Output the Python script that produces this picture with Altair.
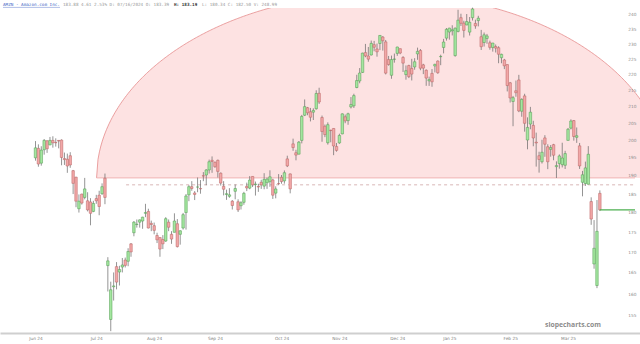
import altair as alt
import pandas as pd
import numpy as np

# Daily candles, Jun 27 2024 -> Apr 8 2025 (index = trading-day number)
opens = [
    195.0, 197.7,
    193.5, 197.3, 199.9, 198.7, 200.0, 199.4, 200.0, 200.1, 194.8, 194.6, 195.6, 191.4, 189.6, 181.1, 185.0, 184.1, 183.2, 182.9, 180.4, 183.8, 184.7, 185.1,
    189.3, 166.75, 154.2, 161.7, 166.5, 165.2, 166.4, 168.1, 167.8, 172.1, 174.9, 177.0, 177.6, 177.9, 179.9, 180.4, 177.3, 176.7, 174.2, 173.7, 173.2, 172.8,
    177.6, 174.5, 175.0, 177.2, 174.5, 176.1, 180.1, 184.8, 187.0, 185.3, 186.9, 186.5, 190.0, 190.2, 191.6, 194.3, 193.75, 194.3, 190.7, 187.1,
    184.9, 184.4, 183.1, 185.75, 182.95, 181.9, 182.8, 187.1, 186.6, 189.8, 187.6, 187.05, 188.2, 187.15, 188.05, 188.35, 188.85, 185.25, 187.85, 189.57, 188.58, 194.7, 190.5,
    199.0, 196.45, 196.04, 200.0, 207.44, 209.72, 208.5, 208.37, 209.4, 214.16, 206.76, 204.15, 199.33, 202.98, 203.49, 198.25, 199.28, 201.9, 206.98, 205.83,
    209.96, 210.31, 215.96, 218.03, 220.75, 227.21, 226.09, 226.41, 229.83, 228.4, 230.23, 232.39, 230.77, 224.91, 219.84, 225.01, 226.94, 228.5, 225.6, 220.06, 222.97,
    222.03, 222.51, 226.78, 227.9, 223.19, 221.46, 218.06, 220.44, 222.83, 224.42, 225.84, 228.9, 232.02, 234.1, 234.5, 226.21, 234.29, 239.02, 237.14, 236.5,
    234.06, 239.01, 237.02, 238.01, 232.5, 230.55, 231.92, 230.46, 228.85, 229.2, 228.82, 225.52, 224.78, 223.28, 217.45, 211.63, 214.94, 218.35, 208.65,
    213.35, 200.11, 204.8, 204.4, 199.49, 195.6, 193.9, 200.72, 198.17, 197.41, 198.77, 192.52, 193.38, 193.07, 192.9, 200.0, 203.6, 205.84, 200.89, 198.42, 188.19,
    187.86, 187.66, 183.0, 167.15, 162.0, 185.2,
]
highs = [
    199.8, 198.85,
    198.3, 200.4, 200.0, 201.0, 201.2, 200.6, 200.1, 200.3, 196.5, 196.2, 196.6, 191.6, 189.7, 184.9, 185.1, 189.4, 185.5, 183.9, 183.2, 184.8, 185.9, 187.9,
    190.6, 168.8, 162.9, 165.1, 167.6, 166.7, 168.6, 168.7, 171.0, 172.3, 177.9, 178.3, 178.3, 179.0, 182.4, 181.1, 178.0, 177.5, 174.9, 173.7, 174.3, 178.9,
    178.3, 175.3, 179.9, 178.4, 175.5, 180.0, 185.0, 187.4, 188.5, 185.8, 189.5, 188.8, 191.0, 191.8, 194.5, 195.4, 193.95, 194.5, 190.9, 188.5,
    186.2, 186.6, 183.4, 187.6, 183.6, 183.1, 185.6, 188.1, 189.9, 189.8, 188.4, 187.8, 188.9, 190.7, 189.5, 191.5, 189.16, 187.1, 190.45, 190.2, 191.46, 195.6, 190.6,
    200.5, 197.3, 199.82, 207.55, 212.25, 209.96, 209.65, 209.54, 215.09, 215.9, 207.34, 204.67, 205.3, 203.13, 203.49, 199.26, 201.95, 208.0, 207.64, 208.2,
    212.99, 214.02, 220.0, 222.15, 227.15, 230.08, 229.06, 231.2, 231.09, 230.2, 233.0, 232.73, 231.4, 226.09, 226.21, 226.88, 229.14, 228.5, 226.03, 223.0, 223.23,
    225.15, 225.36, 228.84, 228.38, 223.52, 221.71, 219.4, 221.82, 223.57, 224.65, 226.51, 231.78, 235.44, 235.52, 236.4, 235.61, 241.77, 240.39, 237.95, 240.29,
    239.25, 242.52, 238.32, 239.66, 234.81, 233.92, 233.44, 231.18, 230.42, 229.89, 229.3, 226.83, 225.13, 223.31, 217.72, 213.34, 218.16, 219.97, 212.62,
    214.01, 206.8, 209.98, 205.77, 202.27, 196.73, 200.18, 201.52, 198.88, 198.65, 199.0, 194.0, 195.97, 199.32, 196.99, 203.64, 206.21, 206.01, 203.79, 199.26, 191.33,
    193.93, 198.34, 184.13, 178.14, 183.41, 186.0,
]
lows = [
    194.2, 192.5,
    192.8, 195.9, 196.4, 198.6, 197.9, 198.2, 197.7, 192.9, 193.0, 190.8, 192.2, 185.0, 181.5, 180.1, 182.2, 183.6, 180.4, 176.8, 180.2, 182.4, 179.4, 184.8,
    182.3, 160.6, 151.6, 158.5, 161.1, 162.0, 165.1, 166.3, 166.6, 168.9, 174.0, 176.2, 176.2, 175.9, 178.9, 176.0, 175.3, 174.5, 172.3, 168.9, 170.8, 172.6,
    175.3, 172.1, 175.0, 171.2, 171.9, 175.7, 175.7, 183.1, 185.9, 183.4, 185.5, 185.1, 188.5, 187.4, 190.6, 190.8, 192.2, 189.5, 187.3, 184.65,
    183.45, 184.0, 180.9, 183.6, 180.25, 180.9, 182.15, 185.8, 186.3, 186.9, 184.6, 185.6, 186.4, 186.3, 186.4, 186.97, 183.7, 183.86, 187.5, 187.8, 187.82, 192.4, 185.2,
    197.0, 194.3, 195.99, 199.14, 207.19, 207.44, 205.59, 206.01, 209.14, 210.88, 199.61, 200.95, 198.78, 199.45, 195.75, 196.75, 199.0, 201.79, 205.05, 204.59,
    209.51, 209.65, 215.75, 217.3, 220.6, 225.67, 224.2, 226.26, 227.63, 225.86, 228.01, 227.85, 220.11, 222.92, 218.73, 223.9, 226.13, 226.67, 220.9, 218.43, 218.94,
    218.19, 221.62, 224.84, 221.46, 220.2, 216.5, 216.47, 216.2, 220.75, 220.31, 223.08, 226.94, 231.19, 231.51, 232.93, 225.86, 233.98, 236.15, 232.22, 236.41,
    232.9, 238.03, 235.2, 236.01, 228.06, 229.2, 230.13, 228.16, 227.52, 227.23, 223.72, 223.71, 221.81, 214.74, 211.31, 204.16, 213.09, 208.37, 206.99,
    202.55, 197.43, 203.26, 198.3, 192.53, 190.85, 193.4, 195.29, 191.82, 195.32, 194.32, 189.38, 191.96, 192.3, 191.86, 199.95, 203.22, 199.93, 199.28, 191.88, 184.4,
    187.2, 187.66, 176.92, 166.0, 161.38, 180.5,
]
closes = [
    197.85, 193.25,
    197.2, 200.0, 197.6, 200.0, 199.3, 199.3, 199.8, 195.1, 194.5, 192.7, 193.0, 187.9, 183.1, 183.1, 182.6, 186.4, 180.8, 179.9, 182.5, 183.2, 181.7, 187.0,
    184.1, 167.9, 161.0, 161.9, 162.8, 165.8, 166.9, 166.8, 170.2, 170.1, 177.6, 177.1, 178.2, 178.9, 180.1, 176.1, 177.0, 175.5, 173.1, 170.8, 172.1, 178.5,
    176.3, 173.3, 177.9, 171.4, 175.4, 179.55, 184.5, 187.0, 186.5, 184.9, 186.9, 186.4, 189.9, 191.6, 193.9, 193.96, 192.5, 191.2, 187.97, 186.3,
    185.1, 184.8, 181.96, 186.5, 180.8, 182.7, 185.2, 186.65, 188.8, 187.5, 187.7, 186.9, 187.5, 188.99, 189.07, 189.7, 184.7, 186.38, 187.83, 188.39, 190.83, 192.73, 186.4,
    197.93, 195.78, 199.5, 207.09, 210.05, 208.18, 206.84, 208.91, 214.1, 211.48, 202.61, 201.7, 204.61, 202.88, 198.38, 197.12, 201.45, 207.86, 205.74, 207.89,
    210.71, 213.44, 218.16, 220.55, 227.03, 226.09, 225.04, 230.26, 228.97, 227.46, 232.93, 231.15, 220.52, 223.29, 224.92, 225.06, 229.05, 227.05, 223.75, 221.3, 219.39,
    220.22, 224.19, 227.61, 222.11, 222.13, 218.94, 218.46, 217.76, 223.35, 220.66, 225.94, 230.71, 235.01, 235.42, 234.85, 235.42, 238.15, 237.07, 234.64, 237.68,
    237.42, 242.06, 236.17, 238.83, 229.15, 233.14, 232.76, 228.93, 230.37, 228.68, 226.65, 226.63, 222.88, 216.58, 212.71, 212.8, 214.35, 208.74, 212.28,
    205.02, 203.8, 208.36, 200.7, 199.25, 194.54, 196.59, 198.89, 193.89, 197.95, 195.74, 192.82, 195.54, 194.95, 196.21, 203.26, 205.71, 201.13, 201.36, 192.72, 190.26,
    192.17, 196.01, 178.41, 171.0, 175.26, 180.8,
]

tick_idx = [0, 21, 41, 62, 85, 105, 125, 143, 164, 184]
tick_lab = ["Jun 24", "Jul 24", "Aug 24", "Sep 24", "Oct 24", "Nov 24",
            "Dec 24", "Jan 25", "Feb 25", "Mar 25"]
y_ticks = [155, 160, 165, 170, 175, 180, 185, 190, 195, 200,
           205, 210, 215, 220, 225, 230, 235, 240]

last_price = 180.8
dashed_level = 187.5
dashed_start = 31.3
dome_left, dome_center = 21.1, 119.7
dome_base, dome_top = 189.4, 247.7

X_MIN, X_MAX = -10.54, 207.14
Y_MIN, Y_MAX = 151.2, 242.4

df = pd.DataFrame({"i": np.arange(len(opens)), "o": opens, "h": highs,
                   "l": lows, "c": closes})
df["dir"] = np.where(df["c"] >= df["o"], "up", "down")

xs = alt.Scale(domain=[X_MIN, X_MAX], nice=False, zero=False)
ys = alt.Scale(type="log", domain=[Y_MIN, Y_MAX], nice=False, zero=False)

lab_expr = "[" + ",".join("'%s'" % s for s in tick_lab) + "][indexof([" + \
    ",".join(str(v) for v in tick_idx) + "], datum.value)]"

x_axis = alt.Axis(values=tick_idx, labelExpr=lab_expr, grid=False, ticks=False,
                  domainColor="#cfcfcf", domainWidth=2, labelFontSize=4.3,
                  labelColor="#808080", labelPadding=3, title=None,
                  labelFont="DejaVu Sans")
y_axis = alt.Axis(orient="right", values=y_ticks, grid=False, ticks=False,
                  domain=False, labelFontSize=4.3, labelColor="#8c8c8c",
                  labelAlign="right", labelPadding=-4, title=None,
                  labelOverlap=False, zindex=1, labelFont="DejaVu Sans")

# dome shape
t = np.linspace(-1, 1, 401)
half = dome_center - dome_left
dome = pd.DataFrame({"i": dome_center + half * t,
                     "p": dome_base * (dome_top / dome_base) ** np.sqrt(np.clip(1 - t ** 2, 0, 1))})

dome_area = alt.Chart(dome).mark_area(color="#fde2e2", clip=True).encode(
    x=alt.X("i:Q", scale=xs, axis=x_axis),
    y=alt.Y("p:Q", scale=ys, axis=y_axis),
    y2=alt.datum(dome_base),
)
dome_line = alt.Chart(dome).mark_line(color="#e58a8a", strokeWidth=0.8, clip=True).encode(
    x="i:Q", y="p:Q")
one = pd.DataFrame({"k": [0]})
dome_base_line = alt.Chart(one).mark_rule(color="#f1b3b3", strokeWidth=1, clip=True).encode(
    x=alt.datum(dome_left), x2=alt.datum(X_MAX), y=alt.datum(dome_base))
dash_line = alt.Chart(one).mark_rule(color="#cfa3a3", strokeWidth=0.8,
                                     strokeDash=[3, 3], clip=True).encode(
    x=alt.datum(dashed_start), x2=alt.datum(X_MAX), y=alt.datum(dashed_level))
last_line = alt.Chart(one).mark_rule(color="#4caf50", strokeWidth=1.3, clip=True).encode(
    x=alt.datum(float(len(opens) - 1)), x2=alt.datum(X_MAX), y=alt.datum(last_price))

base = alt.Chart(df).encode(x="i:Q")
wicks = base.mark_rule(color="#666666", strokeWidth=0.7).encode(y="l:Q", y2="h:Q")
bodies = base.mark_bar(size=2.5, strokeWidth=0.5).encode(
    y="o:Q", y2="c:Q",
    fill=alt.Fill("dir:N", scale=alt.Scale(domain=["up", "down"], range=["#a4e6a0", "#f2a7a7"]), legend=None),
    stroke=alt.Stroke("dir:N", scale=alt.Scale(domain=["up", "down"], range=["#4f9a4f", "#b86060"]), legend=None),
)

mono = "DejaVu Sans Mono"
hdr1 = alt.Chart(one).mark_text(text="AMZN - Amazon.com Inc.", font=mono, fontSize=4.3,
                                color="#3d5fc4", align="left", baseline="middle").encode(
    x=alt.value(3), y=alt.value(-3))
hdr_ul = alt.Chart(one).mark_rule(color="#3d5fc4", strokeWidth=0.4).encode(
    x=alt.value(3), x2=alt.value(60), y=alt.value(-0.6))
hdr2 = alt.Chart(one).mark_text(text="183.88 4.61 2.53% D: 07/16/2024 O: 183.39", font=mono,
                                fontSize=4.3, color="#999999", align="left", baseline="middle").encode(
    x=alt.value(63), y=alt.value(-3))
hdr3 = alt.Chart(one).mark_text(text="H: 183.19", font=mono, fontSize=4.3, fontWeight="bold",
                                color="#333333", align="left", baseline="middle").encode(
    x=alt.value(174), y=alt.value(-3))
hdr4 = alt.Chart(one).mark_text(text="L: 180.34 C: 182.50 V: 248.99", font=mono, fontSize=4.3,
                                color="#999999", align="left", baseline="middle").encode(
    x=alt.value(202), y=alt.value(-3))
wm = alt.Chart(one).mark_text(text="slopecharts.com", font="Open Sans", fontSize=6.8,
                              fontWeight="bold", color="#8c8c8c", align="center",
                              baseline="middle").encode(x=alt.value(573), y=alt.value(317))

chart = alt.layer(
    dome_area, dome_line, dome_base_line, dash_line, wicks, bodies, last_line,
    hdr1, hdr_ul, hdr2, hdr3, hdr4, wm,
).properties(
    width=640, height=325,
    padding={"left": 0, "top": 8, "right": 0, "bottom": 11},
    autosize=alt.AutoSizeParams(type="none"),
    background="white",
).configure_view(stroke=None)

chart.save("out.html", embed_options={"renderer": "svg", "actions": False})
